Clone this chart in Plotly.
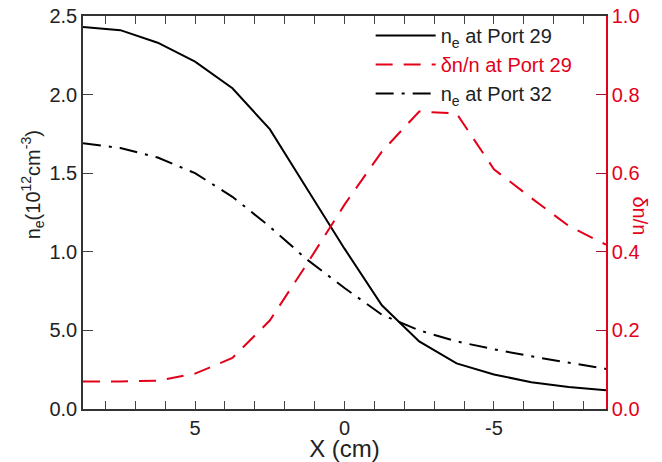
import plotly.graph_objects as go

# Data
x_pos = [8.75, 7.5, 6.25, 5.0, 3.75, 2.5, 1.25, 0.0, -1.25, -2.5, -3.75, -5.0, -6.25, -7.5, -8.75]
ne_port29 = [2.43, 2.41, 2.33, 2.21, 2.04, 1.78, 1.40, 1.02, 0.66, 0.43, 0.29, 0.22, 0.17, 0.14, 0.12]
dn_port29 = [0.070, 0.070, 0.072, 0.090, 0.130, 0.225, 0.370, 0.520, 0.655, 0.757, 0.752, 0.610, 0.537, 0.466, 0.418]
ne_port32 = [1.69, 1.66, 1.60, 1.50, 1.35, 1.16, 0.95, 0.77, 0.60, 0.50, 0.43, 0.38, 0.335, 0.295, 0.255]

x_tickvals = [5, 0, -5]
y_tickvals = [0.0, 0.5, 1.0, 1.5, 2.0, 2.5]
y_ticktext = ["0.0", "5.0", "1.0", "1.5", "2.0", "2.5"]
y2_tickvals = [0.0, 0.2, 0.4, 0.6, 0.8, 1.0]
y2_ticktext = ["0.0", "0.2", "0.4", "0.6", "0.8", "1.0"]

RED = "#e3001b"
FONT = "Liberation Sans, Arial, sans-serif"

fig = go.Figure()
fig.add_trace(go.Scatter(x=x_pos, y=ne_port29, mode="lines",
                         line=dict(color="black", width=2),
                         name="n<sub>e</sub> at Port 29"))
fig.add_trace(go.Scatter(x=x_pos, y=dn_port29, mode="lines", yaxis="y2",
                         line=dict(color=RED, width=2, dash="17px,11px"),
                         name="<span style='color:%s'>δn/n at Port 29</span>" % RED))
fig.add_trace(go.Scatter(x=x_pos, y=ne_port32, mode="lines",
                         line=dict(color="black", width=2, dash="18px,8px,3px,8px"),
                         name="n<sub>e</sub> at Port 32"))

fig.update_layout(
    width=654, height=454,
    margin=dict(l=75, r=56, t=8, b=53),
    paper_bgcolor="white", plot_bgcolor="white",
    font=dict(family=FONT, size=20, color="#222"),
    showlegend=True,
    legend=dict(x=0.55, y=1.0, xanchor="left", yanchor="top",
                bgcolor="rgba(0,0,0,0)", itemwidth=60,
                font=dict(size=20, color="#222")),
    xaxis=dict(range=[8.75, -8.75], tickvals=x_tickvals, ticktext=["5", "0", "-5"],
               ticks="inside", ticklen=8, tickcolor="#444",
               minor=dict(dtick=1, ticks="inside", ticklen=4, tickcolor="#444"),
               showline=True, linecolor="#333", linewidth=1.5, mirror="allticks",
               showgrid=False, zeroline=False, automargin=False,
               title=dict(text="X (cm)", standoff=6)),
    yaxis=dict(range=[0, 2.5], tickvals=y_tickvals, ticktext=y_ticktext,
               ticks="inside", ticklen=10, tickcolor="#444",
               ticklabeloverflow="allow",
               showline=True, linecolor="#333", linewidth=1.5,
               showgrid=False, zeroline=False, automargin=False),
    yaxis2=dict(range=[0, 1.0], overlaying="y", side="right",
                tickvals=y2_tickvals, ticktext=y2_ticktext,
                ticks="inside", ticklen=10, tickcolor="#a01030",
                tickfont=dict(color=RED), ticklabeloverflow="allow",
                showline=True, linecolor=RED, linewidth=1.5,
                showgrid=False, zeroline=False, automargin=False),
    annotations=[
        dict(text="n<sub>e</sub>(10<sup>12</sup>cm<sup>-3</sup>)", xref="paper", yref="paper",
             x=-0.095, y=0.57, textangle=-90, showarrow=False,
             font=dict(size=20, color="#222"), xanchor="center", yanchor="middle"),
        dict(text="δn/n", xref="paper", yref="paper",
             x=1.065, y=0.49, textangle=90, showarrow=False,
             font=dict(size=20, color=RED), xanchor="center", yanchor="middle"),
    ],
)

fig.write_html("out.html")
